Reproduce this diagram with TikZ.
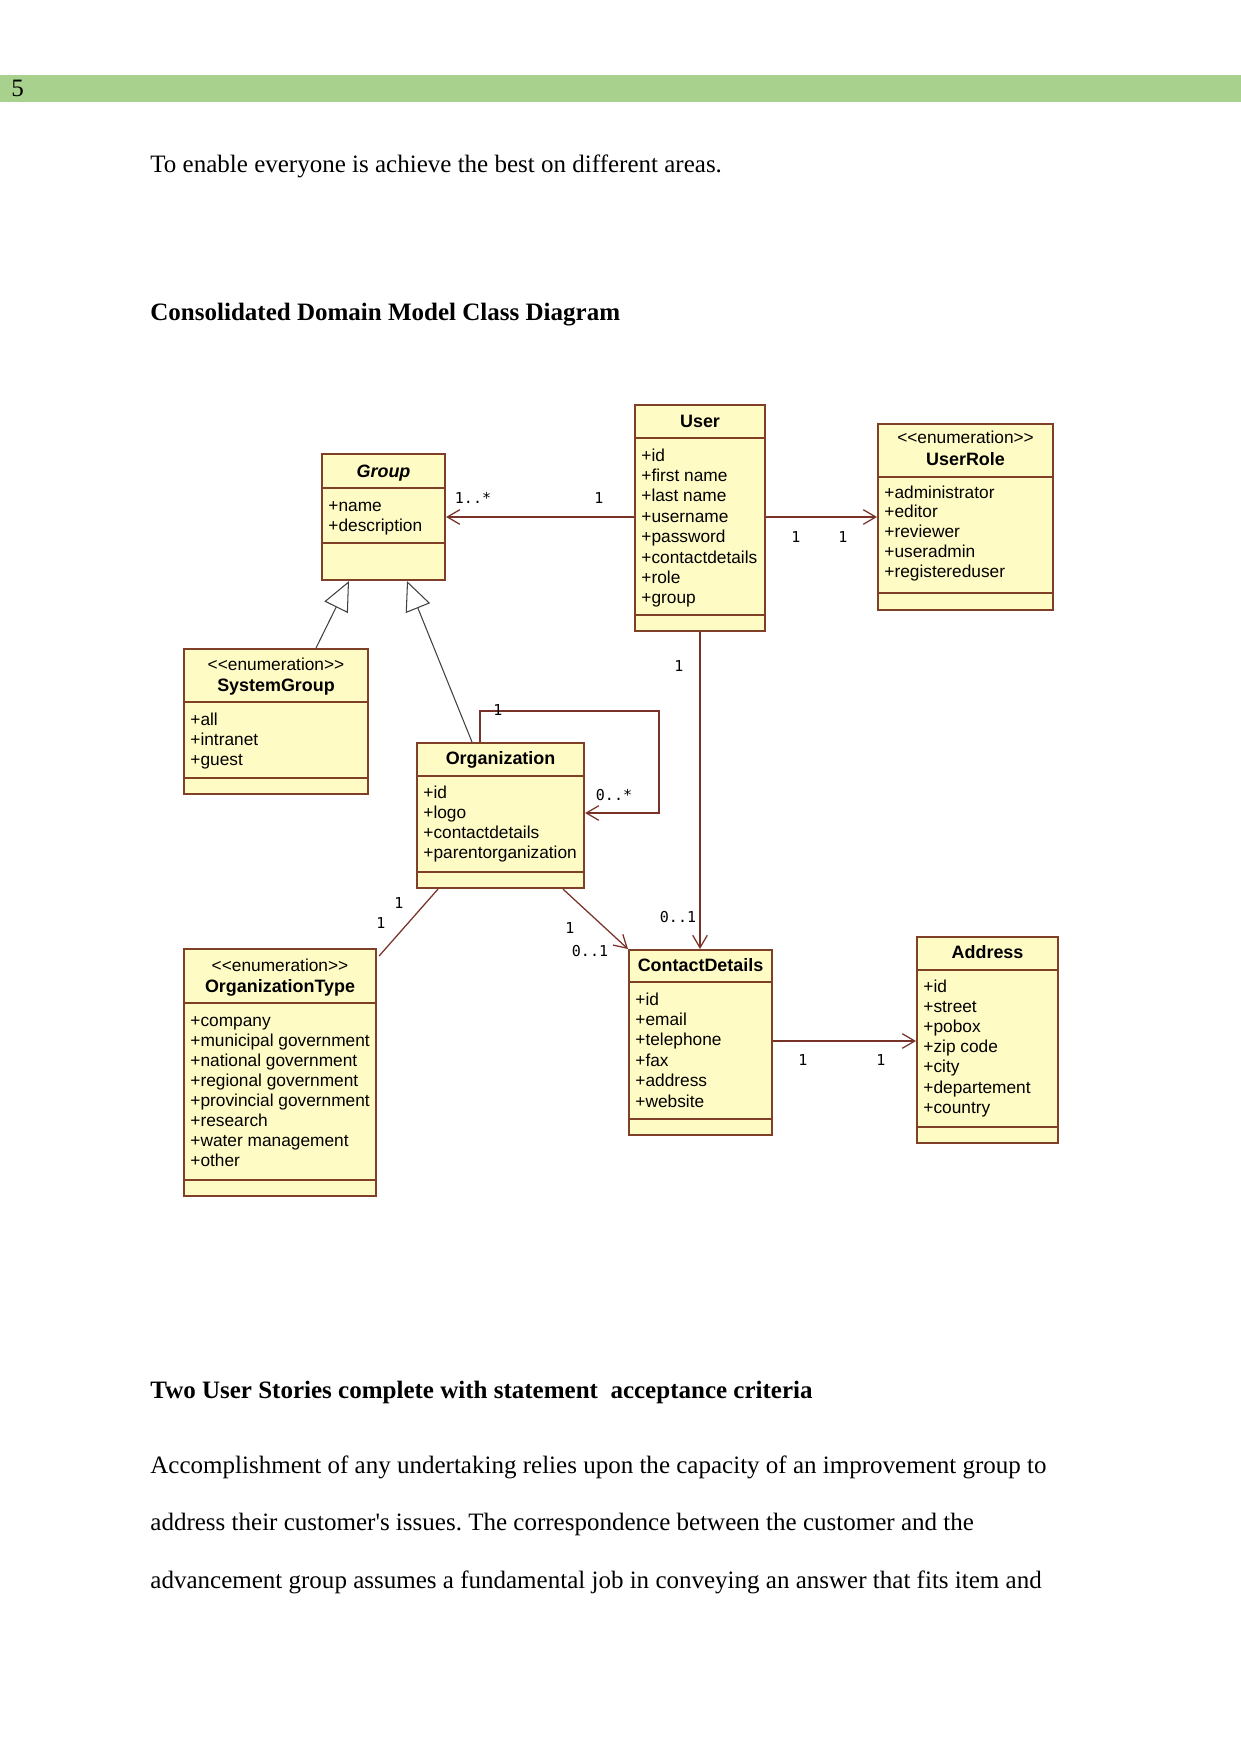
\documentclass[tikz,border=0pt]{standalone}
\usepackage{fontspec}
\setmainfont{Liberation Serif}
\newfontfamily\umlfont{Liberation Sans}
\newfontfamily\multfont{DejaVu Sans Mono}
\usetikzlibrary{arrows.meta,calc}
\definecolor{barGreen}{RGB}{169,209,142}
\definecolor{clsFill}{RGB}{255,251,196}
\definecolor{clsLine}{RGB}{128,64,40}
\definecolor{assocLine}{RGB}{120,50,40}
\newcommand\pxu{0.4797pt}
\frenchspacing
% box: #1 name, #2 x, #3 y, #4 w, #5 h, #6 header line offset, #7 attribute line offset
\newcommand\umlbox[7]{%
  \node[cls, minimum width=#4*\pxu, minimum height=#5*\pxu] (#1) at (#2,#3) {};
  \draw[sep] ($(#1.north west)+(0,#6)$) -- ($(#1.north east)+(0,#6)$);
  \draw[sep] ($(#1.north west)+(0,#7)$) -- ($(#1.north east)+(0,#7)$);
}
% attributes: #1 node, #2 first baseline offset, #3 pitch, #4 list
\newcommand\umlattrs[4]{%
  \foreach \attrtext [count=\ai] in {#4}
    \node[attr] (#1-a\ai) at ($(#1.north west)+(7,{#2+(\ai-1)*#3})$) {\attrtext};
}
\begin{document}
\begin{tikzpicture}[x=0.4797pt,y=-0.4797pt,
  cls/.style={draw=clsLine, fill=clsFill, line width=1pt, inner sep=0pt, anchor=north west},
  sep/.style={draw=clsLine, line width=1pt},
  attr/.style={font=\umlfont\fontsize{8.3}{10}\selectfont, anchor=base west, inner sep=0pt},
  hdr/.style={font=\umlfont\bfseries\fontsize{8.6}{10}\selectfont, anchor=base, inner sep=0pt},
  stereo/.style={font=\umlfont\fontsize{8.3}{10}\selectfont, anchor=base, inner sep=0pt},
  mult/.style={font=\multfont\fontsize{7.2}{8}\selectfont, inner sep=0pt},
  assoc/.style={draw=assocLine, line width=0.6pt, -{Straight Barb[length=6pt,width=7pt]}},
  plainassoc/.style={draw=assocLine, line width=0.6pt},
  gen/.style={draw=black!75, line width=0.5pt, -{Triangle[length=14pt,width=12.5pt,fill=white]}},
  body/.style={font=\fontsize{12}{14}\selectfont, anchor=base west, inner sep=0pt},
  bodybold/.style={font=\bfseries\fontsize{12}{14}\selectfont, anchor=base west, inner sep=0pt},
]
\useasboundingbox[fill=white] (0,0) rectangle (1241,1754);

% header bar
\fill[barGreen] (0,75) rectangle (1241,102);
\node[body] (pagenum) at (11,97) {5};

% texts
\node[body] (intro) at (150,173) {To enable everyone is achieve the best on different areas.};
\node[bodybold] (title1) at (150,320) {Consolidated Domain Model Class Diagram};
\node[bodybold] (title2) at (150,1398) {Two User Stories complete with statement\ \ acceptance criteria};
\node[body] (para1) at (150,1473) {Accomplishment of any undertaking relies upon the capacity of an improvement group to};
\node[body] (para2) at (150,1530) {address their customer\textquotesingle s issues. The correspondence between the customer and the};
\node[body] (para3) at (150,1588) {advancement group assumes a fundamental job in conveying an answer that fits item and};

% classes
\umlbox{group}{321}{453}{123}{126}{35}{90}
\node[hdr, font=\umlfont\bfseries\itshape\fontsize{8.6}{10}\selectfont] (group-h) at ($(group.north)+(0,24)$) {Group};
\umlattrs{group}{58}{20.3}{+name,+description}

\umlbox{user}{634}{404}{130}{226}{34}{211}
\node[hdr] (user-h) at ($(user.north)+(0,23)$) {User};
\umlattrs{user}{57}{20.4}{+id,+first name,+last name,+username,+password,+contactdetails,+role,+group}

\umlbox{userrole}{877}{423}{175}{186}{54}{170}
\node[stereo] (userrole-s) at ($(userrole.north)+(0,20)$) {<{}<enumeration>{}>};
\node[hdr] (userrole-h) at ($(userrole.north)+(0,42)$) {UserRole};
\umlattrs{userrole}{75}{19.9}{+administrator,+editor,+reviewer,+useradmin,+registereduser}

\umlbox{sysgroup}{183}{648}{184}{145}{54}{130}
\node[stereo] (sysgroup-s) at ($(sysgroup.north)+(0,22)$) {<{}<enumeration>{}>};
\node[hdr] (sysgroup-h) at ($(sysgroup.north)+(0,43)$) {SystemGroup};
\umlattrs{sysgroup}{77}{20}{+all,+intranet,+guest}

\umlbox{org}{416}{742}{167}{145}{34}{130}
\node[hdr] (org-h) at ($(org.north)+(0,22)$) {Organization};
\umlattrs{org}{56}{20.3}{+id,+logo,+contactdetails,+parentorganization}

\umlbox{orgtype}{183}{948}{192}{247}{55}{232}
\node[stereo] (orgtype-s) at ($(orgtype.north)+(0,23)$) {<{}<enumeration>{}>};
\node[hdr] (orgtype-h) at ($(orgtype.north)+(0,44)$) {OrganizationType};
\umlattrs{orgtype}{78}{20.1}{+company,+municipal government,+national government,+regional government,+provincial government,+research,+water management,+other}

\umlbox{contact}{628}{949}{143}{185}{33}{170}
\node[hdr] (contact-h) at ($(contact.north)+(0,22)$) {ContactDetails};
\umlattrs{contact}{56}{20.4}{+id,+email,+telephone,+fax,+address,+website}

\umlbox{address}{916}{936}{141}{206}{34}{191}
\node[hdr] (address-h) at ($(address.north)+(0,22)$) {Address};
\umlattrs{address}{56}{20.2}{+id,+street,+pobox,+zip code,+city,+departement,+country}

% connectors
\draw[assoc] ($(user.north west)+(0,113)$) -- ($(group.north east)+(0,64)$);
\draw[assoc] ($(user.north east)+(0,113)$) -- ($(userrole.north west)+(0,94)$);
\draw[assoc] ($(user.south west)+(66,0)$) -- ($(contact.north west)+(72,0)$);
\draw[assoc] ($(org.north west)+(64,0)$) -- ++(0,-31) -- ++(179,0) -- ++(0,102) -- ($(org.north east)+(0,71)$);
\draw[plainassoc] ($(orgtype.north east)+(2,8)$) -- ($(org.south west)+(22,0)$);
\draw[assoc] ($(org.south west)+(147,0)$) -- (contact.north west);
\draw[assoc] ($(contact.north east)+(0,92)$) -- ($(address.north west)+(0,105)$);
\draw[gen] ($(sysgroup.north west)+(133,0)$) -- ($(group.south west)+(28,0)$);
\draw[gen] ($(org.north west)+(56,0)$) -- ($(group.south west)+(86,0)$);

% multiplicities
\node[mult] (m1) at (473,498) {1..*};
\node[mult] (m2) at (599,498) {1};
\node[mult] (m3) at (796,537) {1};
\node[mult] (m4) at (843,537) {1};
\node[mult] (m5) at (679,666) {1};
\node[mult] (m6) at (678,917) {0..1};
\node[mult] (m7) at (498,710) {1};
\node[mult] (m8) at (614,795) {0..*};
\node[mult] (m9) at (399,903) {1};
\node[mult] (m10) at (381,923) {1};
\node[mult] (m11) at (570,928) {1};
\node[mult] (m12) at (590,951) {0..1};
\node[mult] (m13) at (803,1060) {1};
\node[mult] (m14) at (881,1060) {1};
\end{tikzpicture}
\end{document}
